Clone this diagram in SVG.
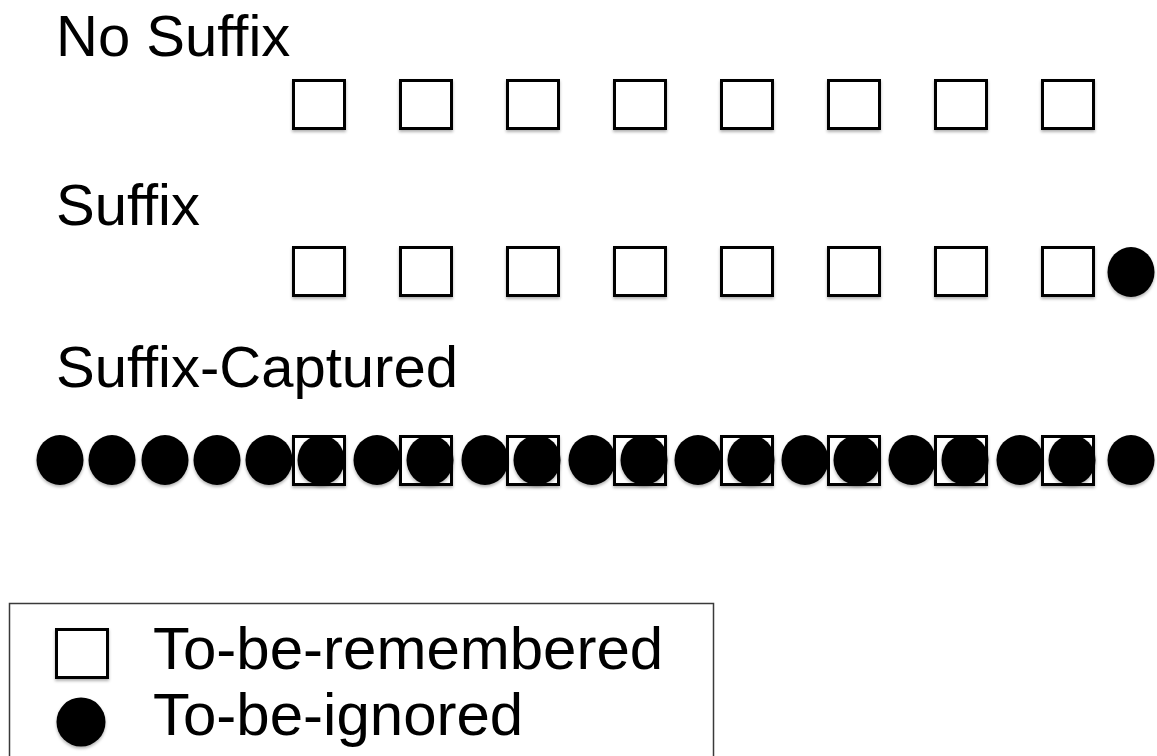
<svg xmlns="http://www.w3.org/2000/svg" width="1157" height="756" viewBox="0 0 1157 756">
  <style>
    .lbl { font-family: "Liberation Sans", Arial, sans-serif; font-size: 58px; fill: #000; font-variant-ligatures: none; font-feature-settings: "liga" 0, "clig" 0; }
    .leg { font-size: 60px; }
    .sq { fill: #fff; stroke: #000; stroke-width: 3; filter: url(#sh); }
    .dot { fill: #000; filter: url(#sh); }
  </style>
  <defs>
    <filter id="sh" x="-20%" y="-20%" width="140%" height="150%">
      <feDropShadow dx="0" dy="2" stdDeviation="1.5" flood-color="#000" flood-opacity="0.3"/>
    </filter>
    <rect id="s" x="1.5" y="1.5" width="51" height="48" class="sq"/>
    <ellipse id="c" cx="0" cy="0" rx="23.5" ry="25" class="dot"/>
  </defs>
  <rect width="1157" height="756" fill="#fff"/>

  <g id="row-no-suffix">
    <text class="lbl" x="56" y="56">No Suffix</text>
    <use href="#s" x="292" y="79"/>
    <use href="#s" x="399" y="79"/>
    <use href="#s" x="506" y="79"/>
    <use href="#s" x="613" y="79"/>
    <use href="#s" x="720" y="79"/>
    <use href="#s" x="827" y="79"/>
    <use href="#s" x="934" y="79"/>
    <use href="#s" x="1041" y="79"/>
  </g>

  <g id="row-suffix">
    <text class="lbl" x="56" y="225">Suffix</text>
    <use href="#s" x="292" y="246"/>
    <use href="#s" x="399" y="246"/>
    <use href="#s" x="506" y="246"/>
    <use href="#s" x="613" y="246"/>
    <use href="#s" x="720" y="246"/>
    <use href="#s" x="827" y="246"/>
    <use href="#s" x="934" y="246"/>
    <use href="#s" x="1041" y="246"/>
    <use href="#c" x="1131" y="272"/>
  </g>

  <g id="row-suffix-captured">
    <text class="lbl" x="56" y="387">Suffix-Captured</text>
    <use href="#s" x="292" y="435"/>
    <use href="#s" x="399" y="435"/>
    <use href="#s" x="506" y="435"/>
    <use href="#s" x="613" y="435"/>
    <use href="#s" x="720" y="435"/>
    <use href="#s" x="827" y="435"/>
    <use href="#s" x="934" y="435"/>
    <use href="#s" x="1041" y="435"/>
    <use href="#c" x="60" y="460"/>
    <use href="#c" x="112" y="460"/>
    <use href="#c" x="165" y="460"/>
    <use href="#c" x="217" y="460"/>
    <use href="#c" x="269" y="460"/>
    <use href="#c" x="321" y="460"/>
    <use href="#c" x="377" y="460"/>
    <use href="#c" x="430" y="460"/>
    <use href="#c" x="485" y="460"/>
    <use href="#c" x="537" y="460"/>
    <use href="#c" x="592" y="460"/>
    <use href="#c" x="644" y="460"/>
    <use href="#c" x="698" y="460"/>
    <use href="#c" x="751" y="460"/>
    <use href="#c" x="805" y="460"/>
    <use href="#c" x="857" y="460"/>
    <use href="#c" x="912" y="460"/>
    <use href="#c" x="965" y="460"/>
    <use href="#c" x="1020" y="460"/>
    <use href="#c" x="1072" y="460"/>
    <use href="#c" x="1131" y="460"/>
  </g>

  <g id="legend">
    <rect x="9.5" y="603.5" width="704" height="170" fill="none" stroke="#3a3a3a" stroke-width="1.5"/>
    <use href="#s" x="55" y="628"/>
    <ellipse cx="81" cy="722" rx="24.5" ry="24.5" class="dot"/>
    <text class="lbl leg" x="153" y="669">To-be-remembered</text>
    <text class="lbl leg" x="153" y="735">To-be-ignored</text>
  </g>
</svg>
